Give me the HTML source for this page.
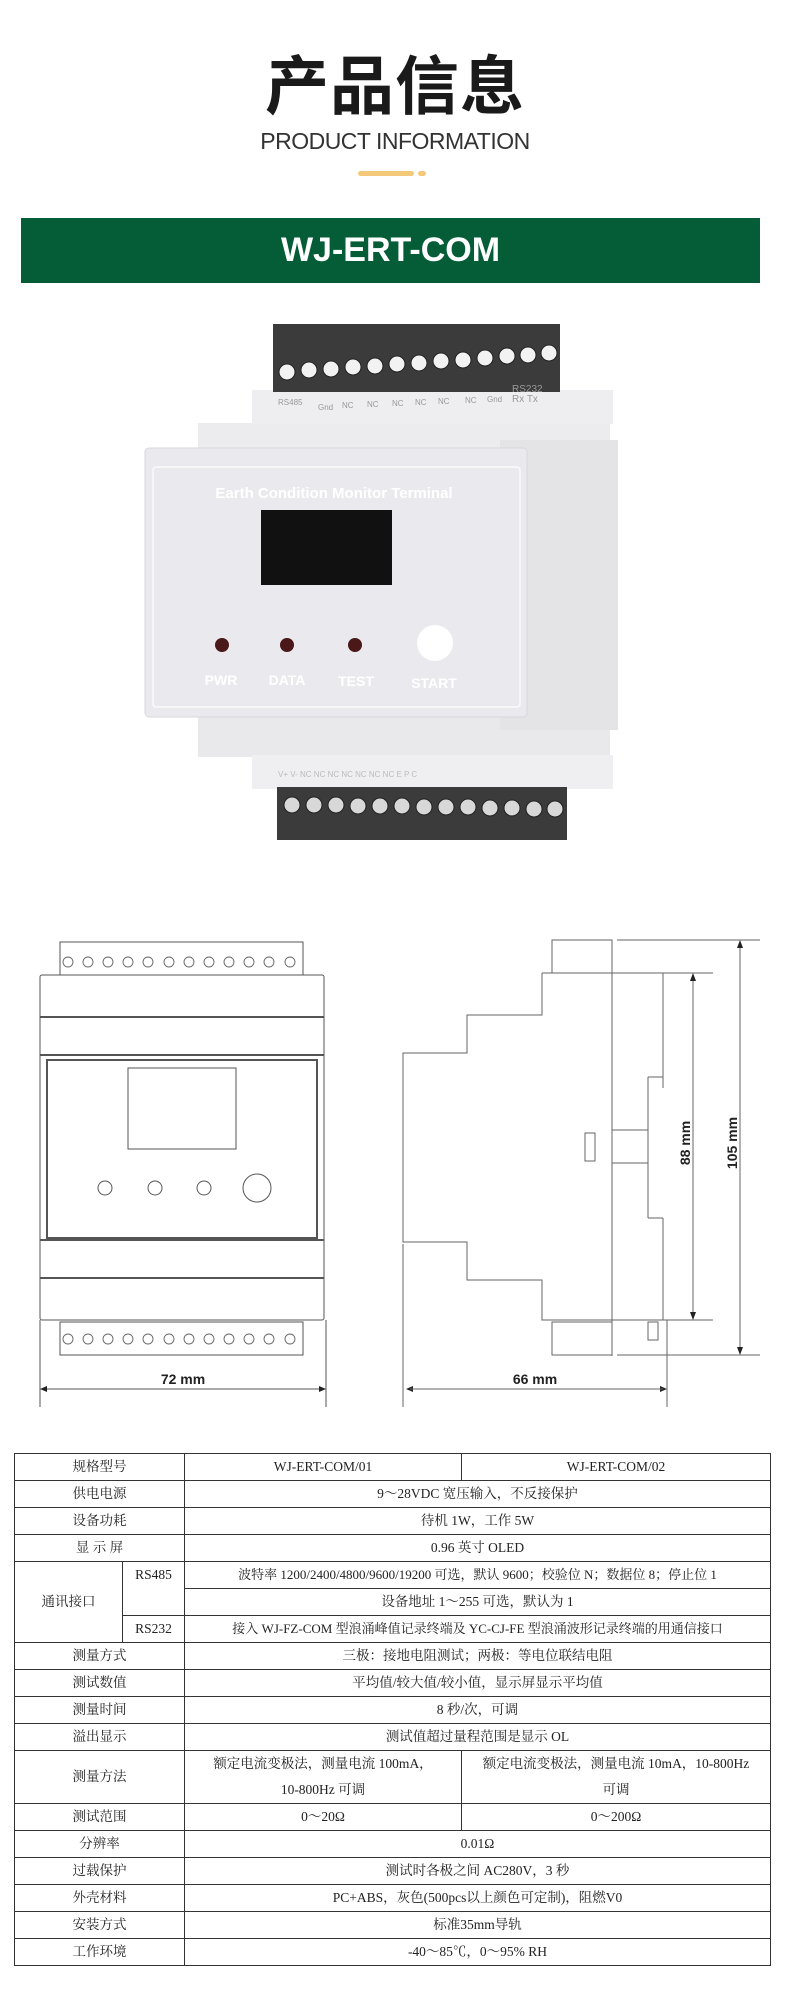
<!DOCTYPE html>
<html><head><meta charset="utf-8">
<style>
*{margin:0;padding:0;box-sizing:border-box}
body{width:790px;height:1992px;background:#fff;position:relative;overflow:hidden;font-family:"Liberation Sans","Noto Sans CJK SC",sans-serif}
.abs{position:absolute}
table{position:absolute;left:14px;top:1453px;width:757px;border-collapse:collapse;font-family:"Liberation Serif","Noto Serif CJK SC",serif;font-size:13.5px;color:#222}
td{border:1.5px solid #333;text-align:center;height:27px;padding:0;line-height:26px}
</style></head><body>
<div class="abs" style="left:0;top:44px;width:790px;text-align:center;font-size:64px;font-weight:bold;color:#1a1a1a;font-family:'Noto Sans CJK SC',sans-serif;line-height:76px;letter-spacing:1px">产品信息</div>
<div class="abs" style="left:0;top:128px;width:790px;text-align:center;font-size:23px;color:#333;font-family:'Liberation Sans',sans-serif;letter-spacing:-0.5px">PRODUCT INFORMATION</div>
<div class="abs" style="left:358px;top:171px;width:56px;height:5px;border-radius:3px;background:#f5c97a"></div>
<div class="abs" style="left:418px;top:171px;width:8px;height:5px;border-radius:3px;background:#f5c97a"></div>
<div class="abs" style="left:21px;top:218px;width:739px;height:65px;background:#055d37;color:#fff;text-align:center;font-size:34px;font-weight:bold;line-height:65px">WJ-ERT-COM</div>

<svg class="abs" style="left:0;top:0" width="790" height="1450" viewBox="0 0 790 1450">
<!-- product photo -->
<rect x="198" y="423" width="412" height="26" fill="#ececee"/>
<rect x="252" y="390" width="361" height="34" fill="#eeeef0"/>
<rect x="198" y="715" width="412" height="42" fill="#e9e9eb"/>
<rect x="252" y="755" width="361" height="34" fill="#efeff1"/>
<rect x="500" y="440" width="118" height="290" fill="#e4e4e6"/>
<rect x="273" y="324" width="287" height="68" fill="#3b3b3b"/>
<g fill="#f2f2f2" stroke="#222" stroke-width="1">
<circle cx="287" cy="372" r="8"/><circle cx="309" cy="370" r="8"/><circle cx="331" cy="369" r="8"/><circle cx="353" cy="367" r="8"/><circle cx="375" cy="366" r="8"/><circle cx="397" cy="364" r="8"/><circle cx="419" cy="363" r="8"/><circle cx="441" cy="361" r="8"/><circle cx="463" cy="360" r="8"/><circle cx="485" cy="358" r="8"/><circle cx="507" cy="356" r="8"/><circle cx="549" cy="353" r="8"/><circle cx="528" cy="355" r="8"/>
</g>
<g font-size="8" fill="#999" font-family="Liberation Sans">
<text x="278" y="405">RS485</text><text x="318" y="410">Gnd</text><text x="342" y="408">NC</text><text x="367" y="407">NC</text><text x="392" y="406">NC</text><text x="415" y="405">NC</text><text x="438" y="404">NC</text><text x="465" y="403">NC</text><text x="487" y="402">Gnd</text><text x="512" y="392" font-size="10">RS232</text><text x="512" y="402" font-size="10">Rx Tx</text>
</g>
<rect x="145" y="448" width="382" height="269" rx="4" fill="#eaeaee" stroke="#d8d8dc"/>
<rect x="153" y="467" width="367" height="240" rx="3" fill="none" stroke="#fafafa" stroke-width="1.5"/>
<text x="334" y="498" text-anchor="middle" fill="#fff" font-size="15" font-weight="bold">Earth Condition Monitor Terminal</text>
<rect x="261" y="510" width="131" height="75" fill="#111"/>
<circle cx="222" cy="645" r="7" fill="#4a1818"/><circle cx="287" cy="645" r="7" fill="#4a1818"/><circle cx="355" cy="645" r="7" fill="#4a1818"/>
<circle cx="435" cy="643" r="18" fill="#fff"/>
<g fill="#fff" font-size="14" font-weight="bold" text-anchor="middle"><text x="221" y="685">PWR</text><text x="287" y="685">DATA</text><text x="356" y="686">TEST</text><text x="434" y="688">START</text></g>
<g font-size="8" fill="#bbb"><text x="278" y="777">V+  V-  NC  NC  NC  NC  NC  NC  NC   E    P    C</text></g>
<rect x="277" y="787" width="290" height="53" fill="#3b3b3b"/>
<g fill="#d8d8d8" stroke="#222"><circle cx="292" cy="805" r="8"/><circle cx="314" cy="805" r="8"/><circle cx="336" cy="805" r="8"/><circle cx="358" cy="806" r="8"/><circle cx="380" cy="806" r="8"/><circle cx="402" cy="806" r="8"/><circle cx="424" cy="807" r="8"/><circle cx="446" cy="807" r="8"/><circle cx="468" cy="807" r="8"/><circle cx="490" cy="808" r="8"/><circle cx="512" cy="808" r="8"/><circle cx="534" cy="809" r="8"/><circle cx="555" cy="809" r="8"/></g>

<!-- front drawing -->
<g fill="none" stroke="#555" stroke-width="1">
<rect x="60" y="942" width="243" height="33"/>
<rect x="60" y="1322" width="243" height="33"/>
<rect x="40" y="975" width="284" height="345" rx="2"/>
<line x1="40" y1="1017" x2="324" y2="1017" stroke-width="2"/>
<line x1="40" y1="1055" x2="324" y2="1055" stroke-width="2"/>
<rect x="47" y="1060" width="270" height="178" stroke-width="2"/>
<line x1="40" y1="1240" x2="324" y2="1240" stroke-width="2"/>
<line x1="40" y1="1278" x2="324" y2="1278" stroke-width="2"/>
<rect x="128" y="1068" width="108" height="81"/>
<circle cx="105" cy="1188" r="7"/><circle cx="155" cy="1188" r="7"/><circle cx="204" cy="1188" r="7"/><circle cx="257" cy="1188" r="14"/>
<line x1="40" y1="1320" x2="40" y2="1407"/><line x1="326" y1="1320" x2="326" y2="1407"/>
<line x1="44" y1="1389" x2="322" y2="1389"/>
</g>
<g fill="none" stroke="#666" stroke-width="0.9">
<g id="tr">
<circle cx="68" cy="962" r="5"/><circle cx="88" cy="962" r="5"/><circle cx="108" cy="962" r="5"/><circle cx="128" cy="962" r="5"/><circle cx="148" cy="962" r="5"/><circle cx="169" cy="962" r="5"/><circle cx="189" cy="962" r="5"/><circle cx="209" cy="962" r="5"/><circle cx="229" cy="962" r="5"/><circle cx="249" cy="962" r="5"/><circle cx="269" cy="962" r="5"/><circle cx="290" cy="962" r="5"/>
</g>
<use href="#tr" y="377"/>
</g>
<path d="M40 1389 l7 -3 v6z M326 1389 l-7 -3 v6z M406 1389 l7 -3 v6z M667 1389 l-7 -3 v6z" fill="#222"/>
<text x="183" y="1384" text-anchor="middle" font-size="14" font-weight="bold" fill="#222">72 mm</text>

<!-- side drawing -->
<g fill="none" stroke="#666" stroke-width="1">
<rect x="552" y="940" width="60" height="33"/>
<rect x="552" y="1322" width="60" height="33"/>
<line x1="612" y1="940" x2="612" y2="1356"/>
<path d="M542 973 H663 M542 973 V1015 H467 V1053 H403 V1242 H467 V1280 H542 V1320 H663"/>
<path d="M663 973 V1088 M648 1077 V1218 M663 1218 V1320 M648 1077 H663 M648 1218 H663"/>
<path d="M612 1130 H648 M612 1163 H648"/>
<rect x="585" y="1133" width="10" height="28"/>
<rect x="648" y="1322" width="10" height="18"/>
<line x1="617" y1="940" x2="760" y2="940"/><line x1="617" y1="1355" x2="760" y2="1355"/>
<line x1="612" y1="973" x2="713" y2="973"/><line x1="612" y1="1320" x2="713" y2="1320"/>
<line x1="740" y1="946" x2="740" y2="1349"/><line x1="693" y1="979" x2="693" y2="1314"/>
<line x1="403" y1="1244" x2="403" y2="1407"/><line x1="667" y1="1320" x2="667" y2="1407"/>
<line x1="410" y1="1389" x2="663" y2="1389"/>
</g>
<path d="M740 940 l-3 8 h6z M740 1355 l-3 -8 h6z M693 973 l-3 8 h6z M693 1320 l-3 -8 h6z" fill="#222"/>
<text x="535" y="1384" text-anchor="middle" font-size="14" font-weight="bold" fill="#222">66 mm</text>
<text transform="translate(690,1143) rotate(-90)" text-anchor="middle" font-size="14" font-weight="bold" fill="#222">88 mm</text>
<text transform="translate(737,1143) rotate(-90)" text-anchor="middle" font-size="14" font-weight="bold" fill="#222">105 mm</text>
</svg>

<table>
<colgroup><col style="width:108px"><col style="width:62px"><col style="width:277px"><col></colgroup>
<tr><td colspan="2">规格型号</td><td>WJ-ERT-COM/01</td><td>WJ-ERT-COM/02</td></tr>
<tr><td colspan="2">供电电源</td><td colspan="2">9～28VDC 宽压输入，不反接保护</td></tr>
<tr><td colspan="2">设备功耗</td><td colspan="2">待机 1W，工作 5W</td></tr>
<tr><td colspan="2">显 示 屏</td><td colspan="2">0.96 英寸 OLED</td></tr>
<tr><td rowspan="3">通讯接口</td><td rowspan="2" style="vertical-align:top">RS485</td><td colspan="2" style="font-size:13px">波特率 1200/2400/4800/9600/19200 可选，默认 9600；校验位 N；数据位 8；停止位 1</td></tr>
<tr><td colspan="2">设备地址 1～255 可选，默认为 1</td></tr>
<tr><td>RS232</td><td colspan="2" style="font-size:13px">接入 WJ-FZ-COM 型浪涌峰值记录终端及 YC-CJ-FE 型浪涌波形记录终端的用通信接口</td></tr>
<tr><td colspan="2">测量方式</td><td colspan="2">三极：接地电阻测试；两极：等电位联结电阻</td></tr>
<tr><td colspan="2">测试数值</td><td colspan="2">平均值/较大值/较小值，显示屏显示平均值</td></tr>
<tr><td colspan="2">测量时间</td><td colspan="2">8 秒/次，可调</td></tr>
<tr><td colspan="2">溢出显示</td><td colspan="2">测试值超过量程范围是显示 OL</td></tr>
<tr><td colspan="2" style="height:52px">测量方法</td><td>额定电流变极法，测量电流 100mA，<br>10-800Hz 可调</td><td>额定电流变极法，测量电流 10mA，10-800Hz<br>可调</td></tr>
<tr><td colspan="2">测试范围</td><td>0～20Ω</td><td>0～200Ω</td></tr>
<tr><td colspan="2">分辨率</td><td colspan="2">0.01Ω</td></tr>
<tr><td colspan="2">过载保护</td><td colspan="2">测试时各极之间 AC280V，3 秒</td></tr>
<tr><td colspan="2">外壳材料</td><td colspan="2">PC+ABS，灰色(500pcs以上颜色可定制)，阻燃V0</td></tr>
<tr><td colspan="2">安装方式</td><td colspan="2">标准35mm导轨</td></tr>
<tr><td colspan="2">工作环境</td><td colspan="2">-40～85℃，0～95% RH</td></tr>
</table>
</body></html>
